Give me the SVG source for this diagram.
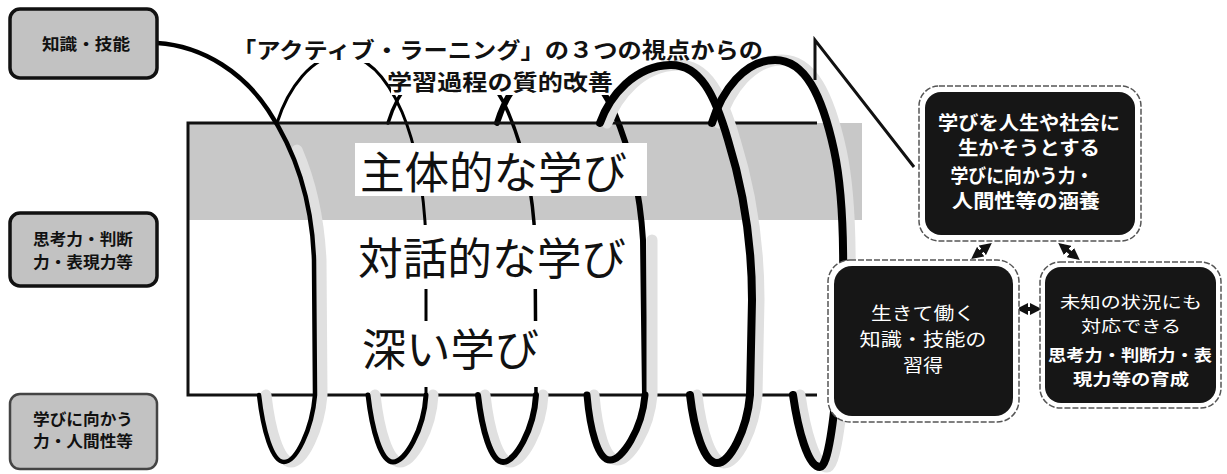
<svg xmlns="http://www.w3.org/2000/svg" width="1227" height="474" viewBox="0 0 1227 474">
<defs>
<style>
.jp{font-family:"Noto Sans CJK JP","Noto Sans CJK SC",sans-serif}
.strand{fill:none;stroke:#000;stroke-linecap:round;stroke-linejoin:round}
.halo{fill:none;stroke:#e0e0e0;stroke-linecap:round;stroke-width:11}
.lbox{fill:#c2c2c2;stroke:#111;stroke-width:3.5}
.ltext{font-size:16px;font-weight:700;fill:#111;text-anchor:middle}
.dark{fill:#161616}
.outer{fill:#fff;stroke:#555;stroke-width:1.5;stroke-dasharray:6 2}
.wtext{fill:#fff;text-anchor:middle}
.big{font-size:44px;fill:#111}
.title{font-size:22px;font-weight:700;fill:#111}
</style>
<marker id="ah" viewBox="0 0 10 10" refX="6" refY="5" markerWidth="3" markerHeight="3" orient="auto-start-reverse"><path d="M0,0 L10,5 L0,10 z" fill="#111"/></marker>
</defs>
<rect width="1227" height="474" fill="#fff"/>

<g id="main-frame">
<rect x="188" y="123" width="629" height="272" fill="#fff"/>
<rect x="188" y="123" width="674" height="97" fill="#c8c8c8"/>
</g>

<g id="connectors">
<g id="coil-back">
<path class="strand" stroke-width="3" d="M277,123 C288,88 312,56 340,55 C368,54 388,80 402,112 C416,145 424,190 426,240 L426,395"/>
<path class="strand" stroke-width="3.5" d="M388,123 C398,90 420,62 448,62 C476,62 497,85 508,112 C522,145 533,190 535,240 L536,395"/>
<path class="strand" stroke-width="6" d="M497,123 C507,90 530,62 556,62 C582,62 602,85 614,112 C628,145 640,190 643,240 L645,395"/>
</g>
<g id="title-mask" fill="#fff">
<rect x="228" y="38" width="538" height="25"/>
<rect x="391" y="62" width="226" height="33"/>
</g>
<g id="label-mask" fill="#fff">
<rect x="355" y="143" width="292" height="53"/>
<rect x="350" y="225" width="282" height="64"/>
<rect x="350" y="321" width="210" height="66"/>
</g>
<g id="frame-lines" stroke="#111" stroke-width="3" fill="none">
<path d="M817,123 L188,123 L188,395 L817,395"/>
</g>
<g id="coil-front">
<g transform="translate(7,0)">
<path class="halo" d="M290,150 C305,185 312,220 314,260 L315,395 C312,430 296,462 284,462 C272,462 263,430 259,395"/>
<path class="halo" d="M645,240 L645,395 C642,430 622,460 610,460 C598,460 590,430 587,395"/>
<path class="halo" d="M600,123 C610,95 635,66 670,65 C700,64 715,95 728,140 C742,185 752,240 752,300 L750,395 C747,430 730,463 717,463 C704,463 694,430 690,395"/>
<path class="halo" d="M712,123 C722,90 745,60 775,60 C805,60 822,95 834,150 C846,205 845,300 838,370 C834,420 828,467 820,467 C808,467 798,430 793,395"/>
<path class="halo" d="M426,395 C424,430 405,462 393,462 C381,462 372,430 368,395"/>
<path class="halo" d="M536,395 C534,430 515,462 503,462 C491,462 482,430 478,395"/>
</g>
<path class="strand" stroke-width="4.5" d="M157,43 C205,46 245,75 268,110 C295,150 312,200 314,260 L315,395 C312,430 296,462 284,462 C272,462 263,430 259,395"/>
<path class="strand" stroke-width="5" d="M426,395 C424,430 405,462 393,462 C381,462 372,430 368,395"/>
<path class="strand" stroke-width="6" d="M536,395 C534,430 515,462 503,462 C491,462 482,430 478,395"/>
<path class="strand" stroke-width="7" d="M645,395 C642,430 622,460 610,460 C598,460 590,430 587,395"/>
<path class="strand" stroke-width="8" d="M600,123 C610,95 635,66 670,65 C700,64 715,95 728,140 C742,185 752,240 752,300 L750,395 C747,430 730,463 717,463 C704,463 694,430 690,395"/>
<path class="strand" stroke-width="8" d="M712,123 C722,90 745,60 775,60 C805,60 822,95 834,150 C846,205 845,300 838,370 C834,420 828,467 820,467 C808,467 798,430 793,395"/>
</g>
<path id="callout" fill="none" stroke="#111" stroke-width="3" d="M815,80 L815,40 L914,167"/>
<g id="small-arrows" stroke="#111" stroke-width="4" fill="none">
<line x1="975" y1="256" x2="988" y2="246" marker-start="url(#ah)" marker-end="url(#ah)"/>
<line x1="1076" y1="257" x2="1062" y2="246" marker-start="url(#ah)" marker-end="url(#ah)"/>
<line x1="1021" y1="309" x2="1037" y2="309" marker-start="url(#ah)" marker-end="url(#ah)"/>
</g>
</g>

<g id="label-shutai" class="jp"><text class="big" x="360" y="189" textLength="267" lengthAdjust="spacingAndGlyphs">主体的な学び</text></g>
<g id="label-taiwa" class="jp"><text class="big" x="358" y="275" textLength="268" lengthAdjust="spacingAndGlyphs">対話的な学び</text></g>
<g id="label-fukai" class="jp"><text class="big" x="362" y="366" textLength="177" lengthAdjust="spacingAndGlyphs">深い学び</text></g>

<g id="title" class="jp">
<text class="title" x="232" y="58" textLength="531" lengthAdjust="spacingAndGlyphs">「アクティブ・ラーニング」の３つの視点からの</text>
<text class="title" x="387" y="90" textLength="226" lengthAdjust="spacingAndGlyphs">学習過程の質的改善</text>
</g>

<g id="box-chishiki" class="jp">
<rect class="lbox" x="10" y="9" width="147" height="69" rx="10"/>
<text class="ltext" x="86" y="50" font-size="18" textLength="88" lengthAdjust="spacingAndGlyphs">知識・技能</text>
</g>
<g id="box-shiko" class="jp">
<rect class="lbox" x="10" y="213" width="147" height="73" rx="10"/>
<text class="ltext" x="83" y="245" textLength="100" lengthAdjust="spacingAndGlyphs">思考力・判断</text>
<text class="ltext" x="83" y="268" textLength="100" lengthAdjust="spacingAndGlyphs">力・表現力等</text>
</g>
<g id="box-manabi" class="jp">
<rect class="lbox" x="10" y="394" width="147" height="75" rx="10" style="stroke:#444;stroke-width:2.5"/>
<text class="ltext" x="83" y="425" textLength="100" lengthAdjust="spacingAndGlyphs">学びに向かう</text>
<text class="ltext" x="83" y="447" textLength="100" lengthAdjust="spacingAndGlyphs">力・人間性等</text>
</g>

<g id="box-kanyo" class="jp">
<rect class="outer" x="919" y="86" width="222" height="155" rx="20"/>
<rect class="dark" x="925" y="92" width="210" height="143" rx="16"/>
<g class="wtext" font-size="19" font-weight="700">
<text x="1029" y="130" textLength="182" lengthAdjust="spacingAndGlyphs">学びを人生や社会に</text>
<text x="1029" y="155" textLength="142" lengthAdjust="spacingAndGlyphs">生かそうとする</text>
<text x="1022" y="183" textLength="143" lengthAdjust="spacingAndGlyphs">学びに向かう力・</text>
<text x="1026" y="208" textLength="148" lengthAdjust="spacingAndGlyphs">人間性等の涵養</text>
</g>
</g>
<g id="box-shutoku" class="jp">
<rect class="outer" x="828" y="260" width="191" height="162" rx="22"/>
<rect class="dark" x="834" y="266" width="179" height="150" rx="18"/>
<g class="wtext" font-size="18">
<text x="923" y="320" textLength="104" lengthAdjust="spacingAndGlyphs">生きて働く</text>
<text x="923" y="346" textLength="127" lengthAdjust="spacingAndGlyphs">知識・技能の</text>
<text x="923" y="372" textLength="40" lengthAdjust="spacingAndGlyphs">習得</text>
</g>
</g>
<g id="box-ikusei" class="jp">
<rect class="outer" x="1040" y="262" width="181" height="146" rx="20"/>
<rect class="dark" x="1045" y="267" width="171" height="136" rx="16"/>
<g class="wtext" font-size="16">
<text x="1131" y="308" textLength="142" lengthAdjust="spacingAndGlyphs">未知の状況にも</text>
<text x="1131" y="332" textLength="100" lengthAdjust="spacingAndGlyphs">対応できる</text>
<text x="1130" y="361" font-weight="700" textLength="164" lengthAdjust="spacingAndGlyphs">思考力・判断力・表</text>
<text x="1131" y="385" font-weight="700" textLength="116" lengthAdjust="spacingAndGlyphs">現力等の育成</text>
</g>
</g>
</svg>
